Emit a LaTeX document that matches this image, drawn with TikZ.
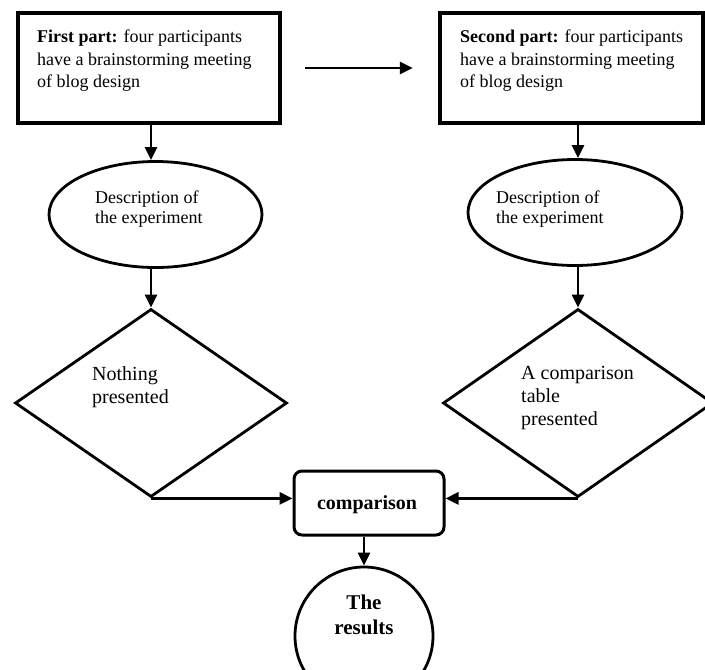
\documentclass[tikz,border=0pt]{standalone}
\usepackage{fontspec}
\setmainfont{Liberation Serif}
\usetikzlibrary{shapes.geometric,arrows.meta}
\begin{document}
\begin{tikzpicture}[x=1pt,y=-1pt,
  partbox/.style={draw,line width=4.5pt,minimum width=262pt,minimum height=110pt,inner sep=0pt},
  descell/.style={draw,ellipse,line width=2.8pt,minimum width=213pt,minimum height=106pt,inner sep=0pt},
  decision/.style={draw,diamond,line width=2.8pt,minimum width=272pt,minimum height=188pt,inner sep=0pt},
  cmpbox/.style={draw,rounded corners=8pt,line width=3pt,minimum width=150pt,minimum height=64pt,inner sep=0pt},
  resultc/.style={draw,circle,line width=2.8pt,minimum size=138pt,inner sep=0pt},
  boxtxt/.style={anchor=north west,inner sep=0pt,align=left,font=\fontsize{18}{22.5}\selectfont},
  elltxt/.style={anchor=north west,inner sep=0pt,align=left,font=\fontsize{18}{20}\selectfont},
  diatxt/.style={anchor=north west,inner sep=0pt,align=left,font=\fontsize{20}{23}\selectfont},
  conn/.style={line width=2.8pt,-{Triangle[length=13pt,width=12pt]}}
]
\useasboundingbox (0,0) rectangle (705,670);

% shapes
\node[partbox] (box1) at (149,68) {};
\node[partbox,minimum width=263pt] (box2) at (571.5,68) {};
\node[descell] (ell1) at (155.5,214.5) {};
\node[descell,minimum width=214pt] (ell2) at (575,212.5) {};
\node[decision] (dia1) at (151,403) {};
\node[decision,minimum width=270pt] (dia2) at (578,403) {};
\node[cmpbox] (cmp) at (369,503) {};
\node[resultc] (res) at (364,636) {};

% texts
\node[boxtxt] (t1) at (37,30) {\textbf{First part:} four participants\\have a brainstorming meeting\\of blog design};
\node[boxtxt] (t2) at (460,30) {\textbf{Second part:} four participants\\have a brainstorming meeting\\of blog design};
\node[elltxt] (e1) at (95,191) {Description of\\the experiment};
\node[elltxt] (e2) at (496,191) {Description of\\the experiment};
\node[diatxt] (d1) at (92,366) {Nothing\\presented};
\node[diatxt] (d2) at (521,366) {A comparison\\table\\presented};
\node[inner sep=0pt,font=\fontsize{20}{24}\selectfont\bfseries] (ct) at (367,505) {comparison};
\node[anchor=north,inner sep=0pt,align=center,font=\fontsize{21}{25}\selectfont\bfseries] (rt) at (364,595) {The\\results};

% connectors
\draw[conn,shorten <=23pt,shorten >=25pt] (box1.east) -- (box2.west);
\draw[conn] (dia1.north |- box1.south) -- (dia1.north |- ell1.north);
\draw[conn] (dia2.north |- box2.south) -- (dia2.north |- ell2.north);
\draw[conn] (dia1.north |- ell1.south) -- (dia1.north);
\draw[conn] (dia2.north |- ell2.south) -- (dia2.north);
\draw[conn] (dia1.south) -- (dia1.south -| cmp.west);
\draw[conn] (dia2.south) -- (dia2.south -| cmp.east);
\draw[conn] (res.north |- cmp.south) -- (res.north);
\end{tikzpicture}
\end{document}
